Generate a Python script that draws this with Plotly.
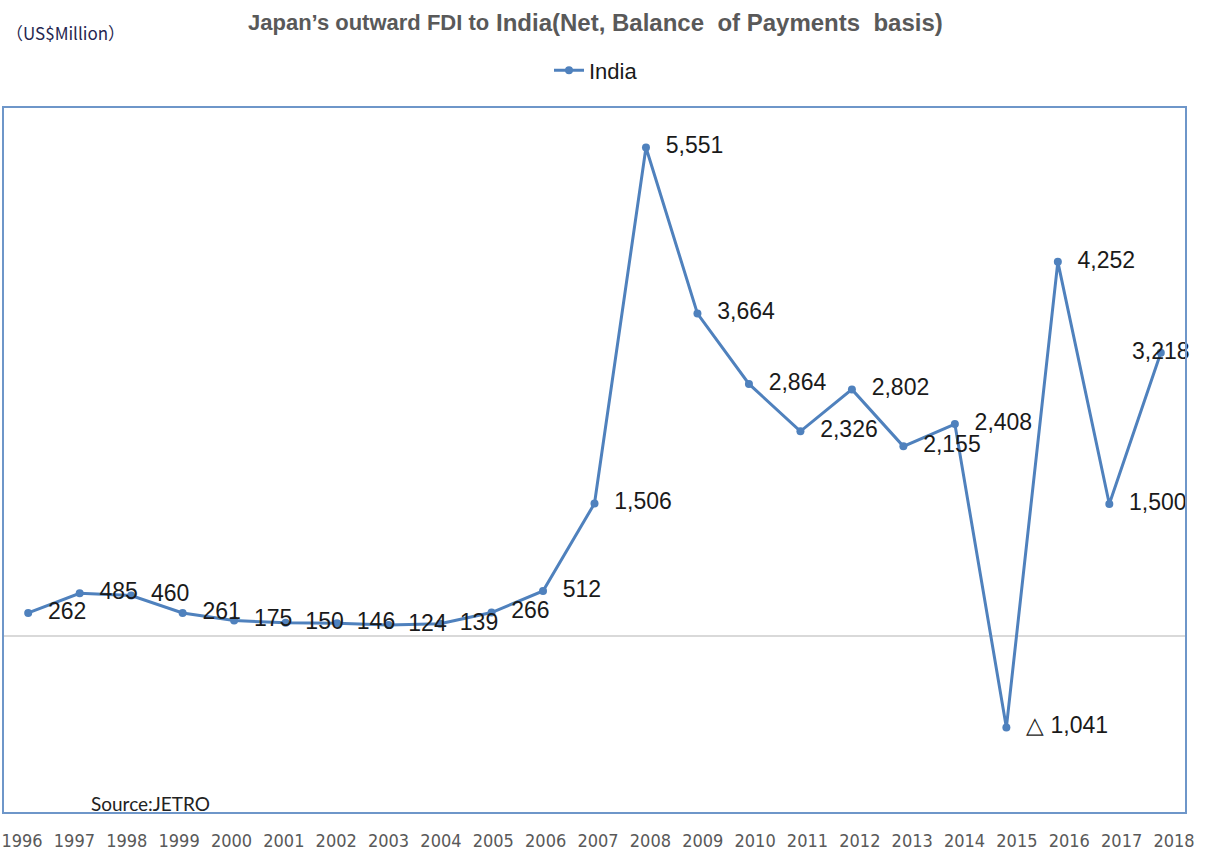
import plotly.graph_objects as go

years = list(range(1996, 2019))
fdi_india = [262, 485, 460, 261, 175, 150, 146, 124, 139, 266, 512, 1506,
             5551, 3664, 2864, 2326, 2802, 2155, 2408, -1041, 4252, 1500, 3218]
year_labels = [str(y) for y in years]

def fmt(v):
    return ("△ " + f"{abs(v):,}") if v < 0 else f"{v:,}"

labels = [fmt(v) for v in fdi_india]

LINE = "#4F81BD"
BORDER = "#6E96C9"

W, H = 1206, 855
pl, pr, pt, pb = 4, 21, 108, 43
pw, ph = W - pl - pr, H - pt - pb
def px(x):
    return (x - pl) / pw
def py(y):
    return (H - pb - y) / ph

# invisible spacer sizes push the data labels away from the points;
# the last label sits over its point as in the reference
spacer = [30] * (len(years) - 1) + [0]
positions = ["middle right"] * (len(years) - 1) + ["middle center"]

fig = go.Figure()
fig.add_trace(go.Scatter(
    x=years, y=fdi_india, name="India", mode="lines+markers",
    line=dict(color=LINE, width=3), marker=dict(color=LINE, size=8, line=dict(width=0)),
))
fig.add_trace(go.Scatter(
    x=years, y=fdi_india, mode="markers+text", showlegend=False, hoverinfo="skip",
    marker=dict(size=spacer, color="rgba(0,0,0,0)", opacity=0, line=dict(width=0)),
    text=labels, textposition=positions,
    textfont=dict(family="Liberation Sans, Arial", size=23, color="#1a1a1a"),
    cliponaxis=False,
))
# carrier trace for the tick-label axis
fig.add_trace(go.Scatter(x=years, y=[None] * len(years), xaxis="x2",
                         showlegend=False, hoverinfo="skip", mode="lines"))

fig.update_layout(
    width=W, height=H,
    margin=dict(l=pl, r=pr, t=pt, b=pb, autoexpand=False),
    paper_bgcolor="white", plot_bgcolor="white",
    showlegend=True,
    legend=dict(orientation="h", x=px(596), xanchor="center", y=py(70.5), yanchor="middle",
                font=dict(family="Liberation Sans, Arial", size=22, color="#1a1a1a"),
                itemwidth=30, bgcolor="rgba(0,0,0,0)"),
    xaxis=dict(range=[1995.53, 2018.47], showticklabels=False, ticks="",
               showgrid=False, zeroline=False, showline=True, mirror=True,
               linecolor=BORDER, linewidth=1.5, automargin=False),
    xaxis2=dict(range=[1995.656, 2018.21], overlaying="x", anchor="y", side="bottom",
                tickmode="array", tickvals=years, ticktext=year_labels,
                ticks="", showgrid=False, zeroline=False, showline=False, automargin=False,
                tickfont=dict(family="DejaVu Sans Condensed", size=18, color="#595959"),
                ticklabelstandoff=16),
    yaxis=dict(range=[-2000, 6000], showticklabels=False, ticks="", showgrid=False,
               zeroline=True, zerolinecolor="#D9D9D9", zerolinewidth=1.5,
               showline=True, mirror=True, linecolor=BORDER, linewidth=1.5,
               automargin=False),
)

fig.add_annotation(text="<b>Japan’s outward FDI to</b>",
                   x=px(491), y=py(22), xref="paper", yref="paper", showarrow=False,
                   xanchor="right", yanchor="middle",
                   font=dict(family="Liberation Sans, Arial", size=22, color="#595959"))
fig.add_annotation(text="<b>India(Net, Balance\u00a0 of Payments\u00a0 basis)</b>",
                   x=px(494), y=py(22), xref="paper", yref="paper", showarrow=False,
                   xanchor="left", yanchor="middle",
                   font=dict(family="Liberation Sans, Arial", size=24, color="#595959"))
fig.add_annotation(text="（US$Million）", x=px(4), y=py(32), xref="paper", yref="paper",
                   showarrow=False, xanchor="left", yanchor="middle",
                   font=dict(family="Noto Sans CJK JP, Liberation Sans", size=17, color="#262650"))
fig.add_annotation(text="Source:JETRO", x=px(89), y=py(803), xref="paper", yref="paper",
                   showarrow=False, xanchor="left", yanchor="middle",
                   font=dict(family="Lato, Liberation Sans", size=19, color="#222222"))

fig.write_html("out.html", config={"displayModeBar": False},
               post_script="document.body.style.margin='0';")
